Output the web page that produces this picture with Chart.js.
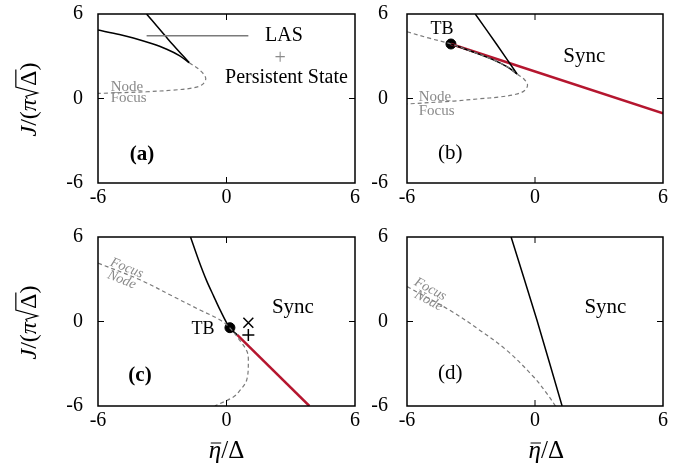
<!DOCTYPE html>
<html>
<head>
<meta charset="utf-8">
<script src="https://cdn.jsdelivr.net/npm/chart.js@4/dist/chart.umd.min.js"></script>
<style>
  html, body { margin: 0; padding: 0; background: #fff; }
  #wrap { position: relative; width: 685px; height: 470px; overflow: hidden; }
  #wrap canvas { position: absolute; }
</style>
</head>
<body>
<div id="wrap">
  <canvas id="pa" width="370" height="215" style="left:0;top:0"></canvas>
  <canvas id="pb" width="325" height="215" style="left:360px;top:0"></canvas>
  <canvas id="pc" width="370" height="250" style="left:0;top:220px"></canvas>
  <canvas id="pd" width="325" height="250" style="left:360px;top:220px"></canvas>
</div>
<script>
const serif = "'Liberation Serif', 'DejaVu Serif', serif";
const tickVals = [-6, 0, 6];

/* (a) */
const aSnUpX = [-3.73, -2.75, -1.74];
const aSnUpY = [6, 4.25, 2.54];
const aSnLowX = [-6, -5, -4.35, -3.5, -2.79, -2.2, -1.74];
const aSnLowY = [4.86, 4.55, 4.3, 3.9, 3.5, 3.05, 2.54];
const aFocX = [-1.74, -1.24, -0.97, -1.16, -1.7, -2.48, -3.73, -6];
const aFocY = [2.54, 2.01, 1.43, 0.96, 0.72, 0.6, 0.48, 0.36];

/* (b) */
const bSnUpX = [-2.8, -1.8, -0.84];
const bSnUpY = [6, 3.85, 1.74];
const bSnLowX = [-3.94, -3, -2, -1.3, -0.84];
const bSnLowY = [3.87, 3.36, 2.78, 2.25, 1.74];
const bSyncX = [-3.94, 6];
const bSyncY = [3.87, -1.05];
const bFocX = [-6, -5, -3.94, -3, -2, -1.3, -0.84, -0.5, -0.35, -0.5, -0.9, -1.7, -2.6, -3.8, -6];
const bFocY = [4.74, 4.3, 3.87, 3.36, 2.78, 2.25, 1.74, 1.35, 0.96, 0.55, 0.3, 0.1, -0.02, -0.18, -0.39];
const bTbX = [-3.94];
const bTbY = [3.87];

/* (c) */
const cSnX = [-1.68, -1.3, -0.93, -0.6, -0.3, 0.13, 0.5];
const cSnY = [6, 4.35, 2.9, 1.8, 0.82, -0.41, -0.95];
const cSyncX = [0.5, 3.87];
const cSyncY = [-0.95, -6];
const cFocX = [-6, -4.04, -2.48, -1.24, -0.3, 0.13, 0.6, 0.95, 1.02, 0.94, 0.6, 0.32, -0.54];
const cFocY = [4.15, 2.96, 1.77, 0.82, 0.11, -0.41, -1.3, -2.1, -2.75, -4.17, -4.95, -5.36, -6];
const cTbX = [0.16];
const cTbY = [-0.44];
const cCrossX = [1.02];
const cCrossY = [-0.09];
const cPlusX = [1.02];
const cPlusY = [-0.96];

/* (d) */
const dSnX = [-1.12, 0.09, 1.27];
const dSnY = [6, 0.11, -6];
const dFocX = [-6, -3.97, -2.56, -1.31, -0.06, 0.6, 1.0];
const dFocY = [2.48, 0.78, -0.65, -2.07, -3.94, -5.2, -6.1];

const pts = (xs, ys) => xs.map((x, i) => ({ x, y: ys[i] }));

function line(xs, ys, color, width, dash, tension) {
  return {
    data: pts(xs, ys), showLine: true, borderColor: color, borderWidth: width,
    borderDash: dash || [], pointRadius: 0, tension: tension || 0, fill: false
  };
}

function marker(xs, ys, style, r, w) {
  return {
    data: pts(xs, ys), showLine: false, pointStyle: style, pointRadius: r,
    backgroundColor: '#000', borderColor: '#000', borderWidth: w
  };
}

const BLACK = '#000';
const RED = '#b5162f';
const GREY = '#7a7a7a';
const DASH = [4, 3];

function drawText(ctx, x, y, t) {
  ctx.save();
  ctx.translate(x, y);
  if (t.rot) ctx.rotate(t.rot * Math.PI / 180);
  ctx.font = (t.style || '') + ' ' + (t.weight || '') + ' ' + t.size + 'px ' + serif;
  ctx.fillStyle = t.color || '#000';
  ctx.textAlign = t.align || 'center';
  ctx.textBaseline = 'middle';
  ctx.fillText(t.t, 0, 0);
  ctx.restore();
}

/* J/(pi sqrt(Delta)), radical drawn by hand */
function yTitle(ctx, cx, cy) {
  const s = 24;
  const it = 'italic ' + s + 'px ' + serif, up = s + 'px ' + serif;
  const parts = [
    { t: 'J', f: it }, { t: '/(', f: up }, { t: 'π', f: it },
    { rad: true, w: s * 0.55 }, { t: 'Δ', f: up }, { t: ')', f: up }
  ];
  ctx.save();
  ctx.translate(cx, cy);
  ctx.rotate(-Math.PI / 2);
  let w = 0;
  parts.forEach(p => { if (!p.rad) { ctx.font = p.f; p.w = ctx.measureText(p.t).width; } w += p.w; });
  let x = -w / 2;
  const base = 8;
  ctx.fillStyle = '#000';
  ctx.textBaseline = 'alphabetic';
  let r0 = 0, r1 = 0;
  parts.forEach(p => {
    if (p.rad) r0 = x;
    else {
      ctx.font = p.f;
      ctx.fillText(p.t, x, base);
      if (p.t === 'Δ') r1 = x + p.w + 1;
    }
    x += p.w;
  });
  ctx.strokeStyle = '#000';
  ctx.lineWidth = 1.2;
  ctx.lineJoin = 'miter';
  ctx.beginPath();
  ctx.moveTo(r0 + s * 0.02, base - s * 0.36);
  ctx.lineTo(r0 + s * 0.12, base - s * 0.42);
  ctx.lineTo(r0 + s * 0.26, base + s * 0.06);
  ctx.lineTo(r0 + s * 0.5, base - s * 0.84);
  ctx.lineTo(r1, base - s * 0.84);
  ctx.stroke();
  ctx.restore();
}

function xTitle(ctx, cx, cy) {
  const size = 25;
  ctx.save();
  ctx.fillStyle = '#000';
  ctx.textBaseline = 'alphabetic';
  ctx.font = 'italic ' + size + 'px ' + serif;
  const w1 = ctx.measureText('η').width;
  ctx.font = size + 'px ' + serif;
  const w2 = ctx.measureText('/Δ').width;
  let x = cx - (w1 + w2) / 2;
  const base = cy + 8;
  ctx.font = 'italic ' + size + 'px ' + serif;
  ctx.fillText('η', x, base);
  ctx.strokeStyle = '#000';
  ctx.lineWidth = 1;
  ctx.beginPath();
  ctx.moveTo(x + 2, base - size * 0.6);
  ctx.lineTo(x + w1, base - size * 0.6);
  ctx.stroke();
  ctx.font = size + 'px ' + serif;
  ctx.fillText('/Δ', x + w1, base);
  ctx.restore();
}

function framePlugin(o) {
  return {
    id: 'frame',
    afterDatasetsDraw(chart) {
      const { ctx, chartArea: a, scales: { x, y } } = chart;
      ctx.save();
      ctx.strokeStyle = '#000';
      ctx.lineWidth = 1.5;
      ctx.strokeRect(a.left, a.top, a.right - a.left, a.bottom - a.top);
      ctx.lineWidth = 1;
      const x0 = x.getPixelForValue(0), y0 = y.getPixelForValue(0);
      ctx.beginPath();
      ctx.moveTo(x0, a.top); ctx.lineTo(x0, a.top + 6);
      ctx.moveTo(x0, a.bottom); ctx.lineTo(x0, a.bottom - 6);
      ctx.moveTo(a.left, y0); ctx.lineTo(a.left + 6, y0);
      ctx.moveTo(a.right, y0); ctx.lineTo(a.right - 6, y0);
      ctx.stroke();
      if (o.legend) {
        const L = o.legend;
        ctx.strokeStyle = GREY;
        ctx.lineWidth = 1.5;
        ctx.beginPath();
        ctx.moveTo(x.getPixelForValue(L.x0), y.getPixelForValue(L.y));
        ctx.lineTo(x.getPixelForValue(L.x1), y.getPixelForValue(L.y));
        ctx.stroke();
      }
      (o.texts || []).forEach(t => drawText(ctx, x.getPixelForValue(t.x), y.getPixelForValue(t.y), t));
      if (o.yTitle) yTitle(ctx, 28, (a.top + a.bottom) / 2 + 1);
      if (o.xTitle !== undefined) xTitle(ctx, x.getPixelForValue(o.xTitle), a.bottom + 44);
      ctx.restore();
    }
  };
}

function noPad(s) {
  s.paddingTop = 0; s.paddingBottom = 0; s.paddingLeft = 0; s.paddingRight = 0;
}

function makeChart(id, datasets, o) {
  const tickFont = { family: serif, size: 20, lineHeight: 1.2 };
  return new Chart(document.getElementById(id), {
    type: 'scatter',
    data: { datasets },
    options: {
      responsive: false,
      animation: false,
      events: [],
      layout: { padding: { left: 0, top: o.top, right: o.right, bottom: 0 } },
      plugins: { legend: { display: false }, tooltip: { enabled: false } },
      scales: {
        x: {
          type: 'linear', min: -6, max: 6, position: 'bottom',
          grid: { display: false, drawTicks: false }, border: { display: false },
          afterBuildTicks: s => { s.ticks = tickVals.map(v => ({ value: v })); },
          afterFit: s => { s.height = o.xH; noPad(s); },
          ticks: { padding: 3, color: '#000', font: tickFont,
                   maxRotation: 0, autoSkip: false, callback: v => String(v) }
        },
        y: {
          type: 'linear', min: -6, max: 6, position: 'left',
          grid: { display: false, drawTicks: false }, border: { display: false },
          afterBuildTicks: s => { s.ticks = tickVals.map(v => ({ value: v })); },
          afterFit: s => { s.width = o.yW; noPad(s); },
          ticks: { padding: o.yPad, color: '#000', font: tickFont,
                   autoSkip: false, callback: v => String(v) }
        }
      }
    },
    plugins: [framePlugin(o)]
  });
}

const nodeFocus = (nx, ny, fx, fy) => [
  { t: 'Node', x: nx, y: ny, size: 15, color: '#8a8a8a', align: 'left' },
  { t: 'Focus', x: fx, y: fy, size: 15, color: '#8a8a8a', align: 'left' }
];

makeChart('pa', [
  line(aFocX, aFocY, GREY, 1.2, DASH, 0.35),
  line(aSnUpX, aSnUpY, BLACK, 1.5, null, 0.2),
  line(aSnLowX, aSnLowY, BLACK, 1.5, null, 0.3)
], {
  top: 14, right: 15, xH: 32, yW: 98, yPad: 15, yTitle: true,
  legend: { x0: -3.73, x1: 1.02, y: 4.46 },
  texts: [
    { t: 'LAS', x: 1.8, y: 4.46, size: 20, align: 'left' },
    { t: '+', x: 2.5, y: 2.85, size: 20, color: '#8a8a8a' },
    { t: 'Persistent State', x: 2.8, y: 1.5, size: 20 },
    { t: '(a)', x: -3.95, y: -4.0, size: 21, weight: 'bold' }
  ].concat(nodeFocus(-5.41, 0.84, -5.41, 0.06))
});

makeChart('pb', [
  line(bFocX, bFocY, GREY, 1.2, DASH, 0.35),
  line(bSnUpX, bSnUpY, BLACK, 1.5, null, 0.2),
  line(bSnLowX, bSnLowY, BLACK, 1.5, null, 0.3),
  line(bSyncX, bSyncY, RED, 2.5),
  marker(bTbX, bTbY, 'circle', 5, 1)
], {
  top: 14, right: 22, xH: 32, yW: 47, yPad: 19,
  texts: [
    { t: 'TB', x: -4.36, y: 4.93, size: 18 },
    { t: 'Sync', x: 2.31, y: 2.97, size: 21 },
    { t: '(b)', x: -3.97, y: -3.9, size: 21 }
  ].concat(nodeFocus(-5.45, 0.13, -5.45, -0.87))
});

makeChart('pc', [
  line(cFocX, cFocY, GREY, 1.2, DASH, 0.35),
  line(cSnX, cSnY, BLACK, 1.5, null, 0.3),
  line(cSyncX, cSyncY, RED, 2.5),
  marker(cTbX, cTbY, 'circle', 5, 1),
  marker(cCrossX, cCrossY, 'crossRot', 7, 1.5),
  marker(cPlusX, cPlusY, 'cross', 6, 1.5)
], {
  top: 17, right: 15, xH: 64, yW: 98, yPad: 15, yTitle: true, xTitle: 0,
  texts: [
    { t: 'TB', x: -1.1, y: -0.55, size: 18 },
    { t: 'Sync', x: 3.1, y: 1.03, size: 21 },
    { t: '(c)', x: -4.04, y: -3.82, size: 21, weight: 'bold' },
    { t: 'Focus', x: -4.66, y: 3.79, size: 14, color: '#8a8a8a', rot: 22, style: 'italic' },
    { t: 'Node', x: -4.89, y: 2.96, size: 14, color: '#8a8a8a', rot: 22, style: 'italic' }
  ]
});

makeChart('pd', [
  line(dFocX, dFocY, GREY, 1.2, DASH, 0.35),
  line(dSnX, dSnY, BLACK, 1.5, null, 0.2)
], {
  top: 17, right: 22, xH: 64, yW: 47, yPad: 19, xTitle: 0.53,
  texts: [
    { t: 'Sync', x: 3.3, y: 1.03, size: 21 },
    { t: '(d)', x: -3.97, y: -3.66, size: 21 },
    { t: 'Focus', x: -4.91, y: 2.29, size: 14, color: '#8a8a8a', rot: 28, style: 'italic' },
    { t: 'Node', x: -4.99, y: 1.48, size: 14, color: '#8a8a8a', rot: 28, style: 'italic' }
  ]
});
</script>
</body>
</html>
